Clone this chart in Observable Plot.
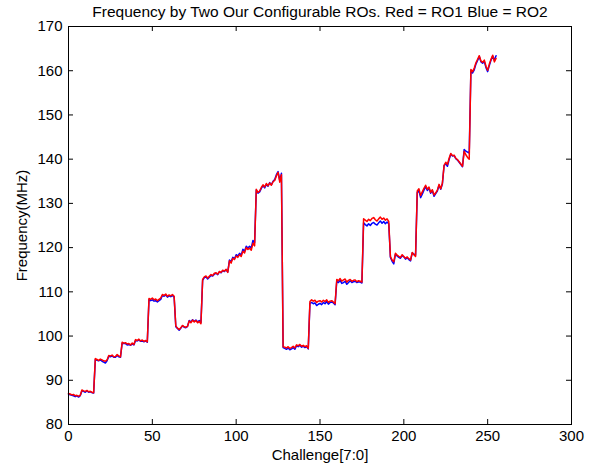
<!DOCTYPE html>
<html><head><meta charset="utf-8">
<script src="https://cdn.jsdelivr.net/npm/d3@7"></script>
<script src="https://cdn.jsdelivr.net/npm/@observablehq/plot@0.6"></script>
<style>
body{margin:0;background:#fff;font-family:"Liberation Sans",Arial,sans-serif}
#title{width:600px;height:21px;box-sizing:border-box;padding-top:3px;padding-left:40px;line-height:18px;font-size:15.5px;text-align:center;color:#000;white-space:nowrap}
</style></head>
<body><div id="title"></div><div id="chart"></div>
<script>
const titleText = "Frequency by Two Our Configurable ROs. Red = RO1 Blue = RO2";
const xLabel = "Challenge[7:0]";
const yLabel = "Frequency(MHz)";
const xTicks = [0, 50, 100, 150, 200, 250, 300];
const yTicks = [80, 90, 100, 110, 120, 130, 140, 150, 160, 170];

const ro1 = [
87.0, 86.9, 86.7, 86.8, 86.5, 86.6, 86.4, 86.6, 87.8, 87.6, 87.5, 87.7, 87.4, 87.5, 87.3, 87.2,
94.9, 94.7, 94.5, 94.8, 94.6, 94.4, 94.3, 94.6, 95.6, 95.5, 95.7, 95.3, 95.4, 95.8, 95.5, 95.3,
98.6, 98.4, 98.5, 98.2, 98.3, 98.0, 98.4, 98.1, 99.2, 99.0, 99.3, 98.9, 99.1, 98.8, 99.0, 98.7,
108.5, 108.3, 108.6, 108.2, 108.4, 108.0, 108.3, 108.6, 109.4, 109.2, 109.5, 109.0, 109.3, 109.1, 109.4, 109.0,
102.3, 101.8, 101.5, 101.9, 102.4, 102.1, 102.0, 102.2, 103.4, 103.0, 103.6, 103.2, 103.5, 103.0, 103.3, 102.8,
112.8, 113.4, 113.6, 113.1, 113.5, 113.9, 113.7, 114.2, 114.3, 114.0, 114.6, 114.4, 114.9, 114.7, 115.1, 114.4,
117.0, 116.5, 117.6, 117.3, 118.1, 117.8, 118.4, 118.0, 119.2, 118.8, 120.0, 119.6, 119.9, 119.4, 121.0, 120.4,
133.2, 132.5, 132.8, 133.6, 134.2, 133.7, 134.5, 134.0, 134.6, 134.1, 134.9, 135.2, 136.2, 137.0, 134.8, 136.5,
97.6, 97.5, 97.3, 97.6, 97.2, 97.4, 97.7, 97.3, 98.0, 97.8, 98.1, 97.7, 97.9, 97.6, 97.8, 97.2,
107.8, 108.2, 107.9, 108.1, 107.6, 107.9, 108.0, 107.7, 108.1, 107.8, 108.2, 107.6, 107.9, 108.0, 107.7, 107.3,
112.8, 112.5, 113.0, 112.4, 112.7, 112.9, 112.2, 112.6, 112.8, 112.4, 112.6, 112.7, 112.3, 112.5, 112.4, 112.2,
126.5, 126.2, 125.9, 126.4, 126.1, 126.6, 126.8, 126.3, 126.0, 126.5, 126.9, 126.4, 126.7, 126.2, 126.5, 125.9,
118.0, 117.2, 116.8, 118.7, 118.3, 118.0, 117.8, 118.4, 118.0, 117.6, 117.9, 117.5, 117.2, 118.9, 118.4, 118.0,
132.8, 133.3, 131.8, 132.6, 133.4, 134.1, 133.2, 133.7, 132.5, 133.1, 131.9, 132.4, 133.0, 134.3, 133.3, 134.6,
138.6, 139.3, 138.8, 140.2, 141.3, 140.8, 140.9, 140.2, 139.9, 139.4, 138.9, 138.4, 141.8, 141.0, 140.4, 140.0,
160.3, 159.8, 160.6, 161.8, 162.6, 163.4, 162.2, 161.9, 162.4, 161.0, 160.1, 161.5, 162.6, 163.5, 162.0, 162.8
];

const ro2 = [
86.9, 86.7, 86.6, 86.5, 86.3, 86.5, 86.2, 86.5, 87.6, 87.5, 87.3, 87.6, 87.3, 87.4, 87.2, 87.1,
94.7, 94.5, 94.4, 94.6, 94.3, 94.1, 93.9, 94.4, 95.4, 95.3, 95.5, 95.2, 95.2, 95.6, 95.3, 95.2,
98.4, 98.3, 98.3, 98.0, 98.1, 97.9, 98.2, 98.0, 99.0, 98.9, 99.1, 98.8, 98.9, 98.7, 98.9, 98.6,
108.2, 108.0, 108.2, 107.9, 108.0, 107.7, 108.0, 108.3, 109.2, 109.0, 109.3, 108.8, 109.1, 108.9, 109.2, 108.8,
102.1, 101.7, 101.3, 101.8, 102.3, 102.0, 101.9, 102.2, 103.5, 103.2, 103.7, 103.3, 103.6, 103.2, 103.5, 103.1,
112.6, 113.2, 113.4, 112.9, 113.3, 113.7, 113.6, 114.0, 114.2, 113.9, 114.5, 114.3, 114.8, 114.6, 115.0, 114.5,
117.2, 116.8, 117.8, 117.5, 118.4, 118.1, 118.7, 118.3, 119.6, 119.2, 120.3, 119.9, 120.3, 119.9, 121.6, 121.1,
133.0, 132.3, 132.6, 133.4, 134.0, 133.5, 134.3, 133.9, 134.7, 134.2, 135.0, 135.4, 136.5, 137.2, 135.2, 136.8,
97.4, 97.2, 97.0, 97.3, 96.9, 97.1, 97.4, 97.0, 97.8, 97.6, 97.9, 97.5, 97.7, 97.4, 97.6, 97.1,
107.4, 107.6, 107.3, 107.5, 106.9, 107.2, 107.4, 107.1, 107.6, 107.3, 107.8, 107.2, 107.6, 107.7, 107.5, 107.1,
112.4, 112.1, 112.6, 111.9, 112.1, 112.4, 111.7, 112.1, 112.5, 112.1, 112.3, 112.4, 112.1, 112.3, 112.2, 112.0,
125.6, 125.2, 124.9, 125.4, 125.0, 125.5, 125.7, 125.3, 125.1, 125.6, 126.0, 125.5, 125.9, 125.4, 125.8, 125.4,
117.8, 116.9, 116.3, 118.5, 118.1, 117.8, 117.6, 118.2, 117.9, 117.4, 117.7, 117.3, 117.0, 118.8, 118.5, 118.3,
132.4, 132.9, 131.3, 132.1, 133.0, 133.8, 132.9, 133.4, 132.3, 132.9, 131.6, 132.2, 132.8, 134.1, 133.2, 134.4,
138.5, 139.0, 138.4, 139.9, 141.1, 140.7, 140.8, 140.1, 139.8, 139.3, 138.8, 138.3, 142.2, 141.8, 141.6, 141.4,
160.0, 159.5, 160.2, 161.5, 162.3, 163.2, 162.0, 161.7, 162.1, 160.7, 159.8, 161.2, 162.4, 163.3, 162.4, 163.4
];

document.getElementById("title").textContent = titleText;

const data = ro1.map((v, i) => ({challenge: i, ro1: v, ro2: ro2[i]}));

const W = 600, H = 446, mT = 5, mB = 43, mL = 68, mR = 29;
const innerW = W - mL - mR, innerH = H - mT - mB, tk = 5;

const chart = Plot.plot({
  width: W, height: H, marginTop: mT, marginBottom: mB, marginLeft: mL, marginRight: mR,
  style: {fontFamily: "'Liberation Sans', Arial, sans-serif", fontSize: "15px", overflow: "visible", background: "white", color: "black"},
  x: {domain: [0, 300], ticks: xTicks, label: null},
  y: {domain: [80, 170], ticks: yTicks, label: null},
  marks: [
    Plot.line(data, {x: "challenge", y: "ro2", stroke: "blue", strokeWidth: 1.5}),
    Plot.line(data, {x: "challenge", y: "ro1", stroke: "red", strokeWidth: 1.5}),
    Plot.ruleX(xTicks, {x: d => d, insetTop: innerH - tk, stroke: "black"}),
    Plot.ruleX(xTicks, {x: d => d, insetBottom: innerH - tk, stroke: "black"}),
    Plot.ruleY(yTicks, {y: d => d, insetRight: innerW - tk, stroke: "black"}),
    Plot.ruleY(yTicks, {y: d => d, insetLeft: innerW - tk, stroke: "black"}),
    Plot.frame({stroke: "black"}),
    Plot.axisX(xTicks, {tickSize: 0, tickPadding: 6, label: null, fontSize: 15}),
    Plot.axisY(yTicks, {tickSize: 0, tickPadding: 6, label: null, fontSize: 15}),
    Plot.text([xLabel], {frameAnchor: "bottom", dy: 31, lineAnchor: "middle", textAnchor: "middle", fontSize: 15}),
    Plot.text([yLabel], {frameAnchor: "left", dx: -46, rotate: -90, textAnchor: "middle", lineAnchor: "middle", fontSize: 15})
  ]
});
document.getElementById("chart").appendChild(chart);
</script>
</body></html>
